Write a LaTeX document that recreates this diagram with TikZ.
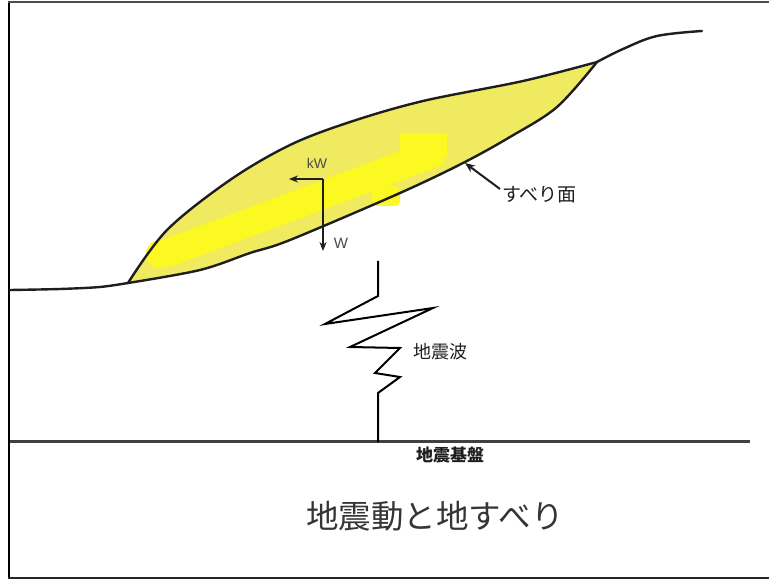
\documentclass[tikz,border=0pt]{standalone}
\usepackage{fontspec}
\newfontfamily\jp{Noto Sans CJK JP}
\setsansfont{Liberation Sans}
\usetikzlibrary{arrows.meta}
\definecolor{lensyellow}{RGB}{240,234,96}
\definecolor{bandyellow}{RGB}{252,248,34}
\definecolor{ink}{RGB}{30,30,30}
\begin{document}
\begin{tikzpicture}[x=1pt,y=-1pt,
  terrain/.style={line width=2.4pt, draw=ink, line cap=round, line join=round},
  wave/.style={line width=2pt, draw=black, line join=miter},
  force/.style={line width=1.6pt, draw=ink, -{Stealth[length=9pt,width=7pt]}},
  pointer/.style={line width=2pt, draw=ink, -{Stealth[length=10pt,width=8pt]}},
  jplabel/.style={font=\jp\fontsize{19}{19}\selectfont, text=ink, inner sep=0pt},
  latlabel/.style={font=\sffamily\fontsize{14}{14}\selectfont, text=ink!80, inner sep=0pt}]
\useasboundingbox (0,0) rectangle (769,580);
\fill[white] (0,0) rectangle (769,580);

% frame
\draw[line width=2.6pt, black] (9,1) -- (9,579);
\draw[line width=1.4pt, black!70] (8,2) -- (769,2);
\draw[line width=2pt, black!85] (8,578) -- (769,578);

% sliding mass (lens between slope surface and slip surface)
\fill[lensyellow]
  plot[smooth, tension=0.55] coordinates {(128,283) (167,230) (230,180) (290,145) (350,122) (423,101) (523,81) (597,62)}
  -- plot[smooth, tension=0.55] coordinates {(597,62) (557,107) (510,137) (463,163) (400,193) (290,240) (250,253) (200,270) (128,283)}
  -- cycle;
% highlighter strokes
\draw[bandyellow, line width=28pt, line cap=butt] (165,254) -- (440,151);
\fill[bandyellow] (160,254) circle (14pt);
\fill[bandyellow, rounded corners=5pt] (372,186) rectangle (400,206);
\fill[bandyellow] (400,133) rectangle (447,158);

% level ground at the toe
\draw[terrain] plot[smooth, tension=0.5] coordinates {(10,290) (60,289) (100,287) (128,283)};
% slope surface and hill top
\draw[terrain] plot[smooth, tension=0.55] coordinates {(128,283) (167,230) (230,180) (290,145) (350,122) (423,101) (523,81) (597,62)};
\draw[terrain] plot[smooth, tension=0.6] coordinates {(597,62) (623,49) (657,36) (702,31)};
% slip surface
\draw[terrain] plot[smooth, tension=0.55] coordinates {(128,283) (200,270) (250,253) (290,240) (400,193) (463,163) (510,137) (557,107) (597,62)};

% forces on the sliding mass
\coordinate (g) at (323,179);
\coordinate (kwend) at (289,179);
\coordinate (wend) at (323,251);
\draw[force] (g) -- (kwend);
\draw[force] (g) -- (wend);
\node[latlabel] (kw) at (317,163) {kW};
\node[latlabel, font=\sffamily\fontsize{15}{15}\selectfont] (w) at (341,243) {W};

% slip surface label
\node[jplabel, anchor=west] (slip) at (502,195) {すべり面};
\coordinate (sliptip) at (465,163);
\draw[pointer] (slip.west) ++(-2,-6) coordinate (sliptail) -- (sliptip);

% seismic bedrock
\draw[line width=3pt, black!75] (10,441) -- (750,441);
\node[jplabel, font=\jp\bfseries\fontsize{17}{17}\selectfont] (bed) at (450,455) {地震基盤};

% seismic wave
\draw[wave] (378,442) -- (378,393) -- (400,377) -- (375,373) -- (400,348) -- (350,347) -- (433,308) -- (325,324) -- (378,296) -- (378,261);
\node[jplabel, font=\jp\fontsize{18}{18}\selectfont, anchor=west] (wavelbl) at (413,352) {地震波};

% title
\node[font=\jp\fontsize{32.5}{32.5}\selectfont, text=ink!90, inner sep=0pt] (title) at (435,516) {地震動と地すべり};
\end{tikzpicture}
\end{document}
